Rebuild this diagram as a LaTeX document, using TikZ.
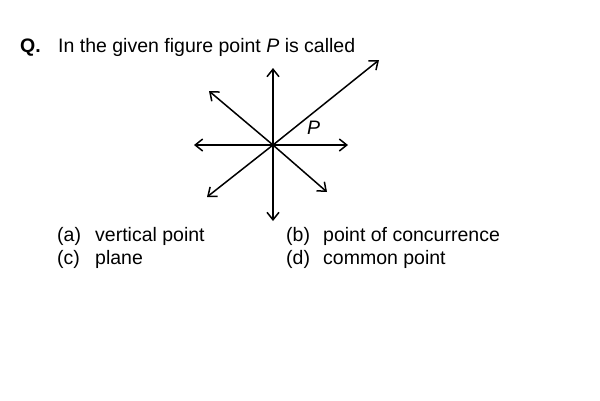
\documentclass[tikz,border=0pt]{standalone}
\usepackage{fontspec}
\setmainfont{Liberation Sans}
\usetikzlibrary{arrows.meta}
\begin{document}
\begin{tikzpicture}[x=1pt,y=-1pt,
  txt/.style={anchor=base west,inner sep=0pt,font=\fontsize{19.5}{22}\selectfont},
  ray/.style={line width=1.5pt,-{Straight Barb[length=7.5pt,width=12pt,line width=1.5pt]}}]
\useasboundingbox (0,0) rectangle (600,400);
\node[txt,font=\fontsize{19.5}{22}\selectfont\bfseries] (q) at (20,52) {Q.};
\node[txt] (title) at (58,52) {In the given figure point \textit{P} is called};
\coordinate (o) at (273,145);
\coordinate (up) at (273,68);
\coordinate (dn) at (273,221);
\coordinate (lf) at (194,145);
\coordinate (rt) at (348,145);
\coordinate (ur) at (379,60);
\coordinate (ul) at (209,91);
\coordinate (ll) at (207,197);
\coordinate (lr) at (327,192);
\foreach \t in {up,dn,lf,rt,ur,ul,ll,lr} \draw[ray] (o) -- (\t);
\node[txt] (p) at (307,134) {\textit{P}};
\node[txt] (a1) at (57,241) {(a)};
\node[txt] (a2) at (95,241) {vertical point};
\node[txt] (b1) at (286,241) {(b)};
\node[txt] (b2) at (323,241) {point of concurrence};
\node[txt] (c1) at (57,264) {(c)};
\node[txt] (c2) at (95,264) {plane};
\node[txt] (d1) at (286,264) {(d)};
\node[txt] (d2) at (323,264) {common point};
\end{tikzpicture}
\end{document}
